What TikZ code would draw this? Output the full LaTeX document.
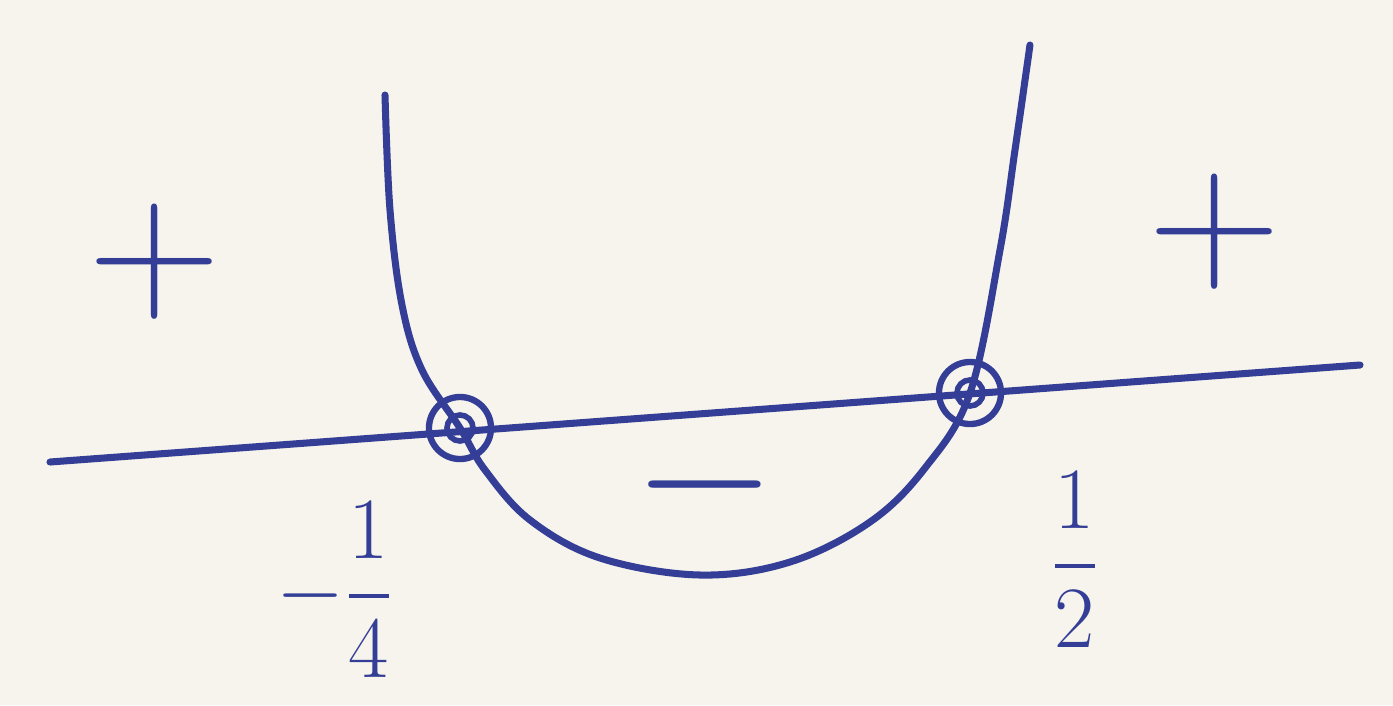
\documentclass[tikz,border=0pt]{standalone}
\usepackage{amsmath}
\usepackage{graphicx}
\usetikzlibrary{positioning}
\definecolor{ink}{RGB}{52,62,150}
\definecolor{paper}{RGB}{246,244,236}
\newcommand{\bigsign}[1]{\scalebox{2.1}{$#1$}}
\begin{document}
\begin{tikzpicture}[x=0.01cm, y=-0.01cm, line width=2pt, draw=ink, text=ink,
    font=\fontsize{40}{44}\selectfont,
    root/.style={circle, draw=ink, line width=1.8pt, minimum size=0.62cm, inner sep=0pt}]
  \fill[paper] (0,0) rectangle (1393,705);
  \useasboundingbox (0,0) rectangle (1393,705);
  % number line
  \coordinate (axl) at (50,462);
  \coordinate (axr) at (1360,365);
  \draw[line cap=round] (axl) -- (axr);
  % roots
  \node[root] (lo) at (460,428) {};
  \node[root] (hi) at (970,393) {};
  \foreach \p in {lo,hi}
    \draw[line width=1.6pt] (\p.center) circle[radius=0.13cm];
  % parabola
  \draw[line cap=round] plot[smooth, tension=0.6] coordinates {(385,95) (390,210) (402,305)
      (422,370) (lo.center) (485,470) (530,520) (600,558) (700,575) (790,562)
      (870,522) (925,468) (hi.center) (1000,250) (1015,150) (1030,45)};
  % signs
  \node (pl) at (155,262) {\bigsign{+}};
  \node (pr) at (1215,232) {\bigsign{+}};
  \node (mi) at (705,485) {\bigsign{-}};
  % root labels
  \node (llo) at (335,590) {$-\dfrac{1}{4}$};
  \node (lhi) at (1075,560) {$\dfrac{1}{2}$};
\end{tikzpicture}
\end{document}
